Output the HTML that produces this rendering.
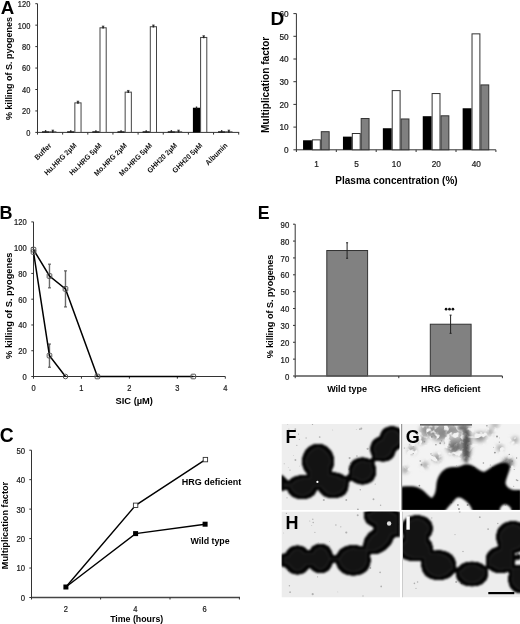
<!DOCTYPE html>
<html><head><meta charset="utf-8"><style>
html,body{margin:0;padding:0;background:#fff;}
svg{display:block;font-family:"Liberation Sans",sans-serif;filter:grayscale(1);}
</style></head><body>
<svg width="520" height="624" viewBox="0 0 520 624" font-family="Liberation Sans, sans-serif">
<rect width="520" height="624" fill="#fff"/>
<defs>
<filter id="bl" x="-10%" y="-10%" width="120%" height="120%"><feGaussianBlur stdDeviation="0.6"/></filter>
<filter id="bl2" x="-30%" y="-30%" width="160%" height="160%"><feGaussianBlur stdDeviation="1.5"/></filter>
<filter id="bl3" x="-50%" y="-50%" width="200%" height="200%"><feGaussianBlur stdDeviation="0.5"/></filter>
<clipPath id="cF"><rect x="281.5" y="424" width="118" height="86"/></clipPath>
<clipPath id="cG"><rect x="401" y="424" width="119" height="86"/></clipPath>
<clipPath id="cH"><rect x="281.5" y="511.5" width="118.5" height="86"/></clipPath>
<clipPath id="cI"><rect x="402" y="511.5" width="118" height="86"/></clipPath>
<filter id="goo" x="-20%" y="-20%" width="140%" height="140%" color-interpolation-filters="sRGB"><feGaussianBlur in="SourceAlpha" stdDeviation="1.0" result="b"/><feComponentTransfer in="b" result="t"><feFuncA type="linear" slope="12" intercept="-6.2"/></feComponentTransfer><feMorphology in="t" operator="erode" radius="3" result="inner"/><feMorphology in="t" operator="erode" radius="4" result="inner2"/><feFlood flood-color="#030303"/><feComposite in2="t" operator="in" result="rim"/><feFlood flood-color="#222"/><feComposite in2="inner" operator="in" result="ring"/><feFlood flood-color="#131313"/><feComposite in2="inner2" operator="in" result="core"/><feMerge result="m"><feMergeNode in="rim"/><feMergeNode in="ring"/><feMergeNode in="core"/></feMerge><feGaussianBlur in="m" stdDeviation="1.0"/></filter>
<filter id="bl4" x="-10%" y="-10%" width="120%" height="120%"><feGaussianBlur stdDeviation="1.0"/></filter>
<filter id="cloud" x="401" y="424" width="119" height="86" filterUnits="userSpaceOnUse"><feGaussianBlur in="SourceAlpha" stdDeviation="2" result="env"/><feTurbulence type="fractalNoise" baseFrequency="0.18" numOctaves="2" seed="11" result="n"/><feColorMatrix in="n" type="matrix" values="0 0 0 0 0.3  0 0 0 0 0.3  0 0 0 0 0.3  6 0 0 0 -2.1" result="blot"/><feComposite in="blot" in2="env" operator="in" result="c"/><feGaussianBlur in="c" stdDeviation="0.5"/></filter>
</defs>
<g clip-path="url(#cF)">
<rect x="281.5" y="424" width="118" height="86" fill="#eeeeee"/>
<g fill="#b0b0b0" filter="url(#bl3)">
<circle cx="319.7" cy="437.0" r="0.86"/>
<circle cx="290.0" cy="470.1" r="0.66"/>
<circle cx="288.3" cy="467.6" r="0.43"/>
<circle cx="332.7" cy="430.0" r="0.46"/>
<circle cx="331.6" cy="495.1" r="0.49"/>
<circle cx="307.8" cy="478.0" r="1.06"/>
<circle cx="349.6" cy="458.1" r="1.08"/>
<circle cx="287.0" cy="497.8" r="0.60"/>
<circle cx="298.5" cy="434.1" r="0.62"/>
<circle cx="377.8" cy="439.5" r="0.81"/>
<circle cx="356.9" cy="456.0" r="0.78"/>
<circle cx="288.9" cy="429.1" r="0.54"/>
<circle cx="361.8" cy="460.8" r="0.62"/>
<circle cx="350.6" cy="463.0" r="0.61"/>
<circle cx="375.2" cy="484.1" r="0.57"/>
<circle cx="349.3" cy="469.2" r="1.01"/>
<circle cx="367.6" cy="448.8" r="1.09"/>
<circle cx="295.4" cy="460.0" r="0.93"/>
<circle cx="299.4" cy="466.1" r="0.43"/>
<circle cx="360.3" cy="489.8" r="0.80"/>
<circle cx="384.8" cy="451.0" r="0.89"/>
<circle cx="351.6" cy="473.9" r="0.72"/>
<circle cx="380.6" cy="505.2" r="0.73"/>
<circle cx="359.9" cy="429.2" r="0.89"/>
<circle cx="357.9" cy="509.4" r="0.98"/>
<circle cx="315.1" cy="457.2" r="0.87"/>
<circle cx="284.2" cy="463.7" r="0.52"/>
<circle cx="295.3" cy="429.1" r="0.94"/>
<circle cx="296.8" cy="445.3" r="0.67"/>
<circle cx="384.3" cy="430.9" r="0.71"/>
<circle cx="346.3" cy="500.0" r="0.97"/>
<circle cx="383.5" cy="447.9" r="0.69"/>
<circle cx="323.8" cy="500.0" r="1.07"/>
<circle cx="299.3" cy="439.2" r="0.56"/>
<circle cx="309.0" cy="465.7" r="0.81"/>
<circle cx="312.5" cy="424.4" r="0.69"/>
<circle cx="325.1" cy="472.7" r="1.07"/>
<circle cx="363.0" cy="468.3" r="0.83"/>
<circle cx="361.3" cy="428.6" r="1.03"/>
<circle cx="373.5" cy="499.2" r="0.96"/>
<circle cx="327.8" cy="458.3" r="0.47"/>
<circle cx="356.3" cy="429.4" r="0.45"/>
<circle cx="306.1" cy="438.0" r="0.64"/>
<circle cx="287.7" cy="424.0" r="0.51"/>
<circle cx="293.5" cy="455.3" r="0.42"/>
</g>
<g filter="url(#goo)" fill="#000">
<ellipse cx="318.1" cy="461.2" rx="16.4" ry="17.8"/>
<polygon points="317.40,487.20 317.28,489.12 316.93,490.77 316.34,492.29 315.54,493.70 314.52,494.97 313.29,496.10 311.88,497.08 310.29,497.90 308.55,498.55 306.65,499.02 304.59,499.31 302.20,499.40 299.81,499.31 297.75,499.02 295.85,498.55 294.11,497.90 292.52,497.08 291.11,496.10 289.88,494.97 288.86,493.70 288.06,492.29 287.47,490.77 287.12,489.12 287.00,487.20 287.12,485.28 287.47,483.63 288.06,482.11 288.86,480.70 289.88,479.43 291.11,478.30 292.52,477.32 294.11,476.50 295.85,475.85 297.75,475.38 299.81,475.09 302.20,475.00 304.59,475.09 306.65,475.38 308.55,475.85 310.29,476.50 311.88,477.32 313.29,478.30 314.52,479.43 315.54,480.70 316.34,482.11 316.93,483.63 317.28,485.28"/>
<polygon points="348.80,485.30 348.68,487.37 348.32,489.16 347.72,490.81 346.89,492.33 345.84,493.71 344.58,494.93 343.13,495.99 341.51,496.88 339.71,497.58 337.77,498.09 335.65,498.40 333.20,498.50 330.75,498.40 328.63,498.09 326.69,497.58 324.89,496.88 323.27,495.99 321.82,494.93 320.56,493.71 319.51,492.33 318.68,490.81 318.08,489.16 317.72,487.37 317.60,485.30 317.72,483.23 318.08,481.44 318.68,479.79 319.51,478.27 320.56,476.89 321.82,475.67 323.27,474.61 324.89,473.72 326.69,473.02 328.63,472.51 330.75,472.20 333.20,472.10 335.65,472.20 337.77,472.51 339.71,473.02 341.51,473.72 343.13,474.61 344.58,475.67 345.84,476.89 346.89,478.27 347.72,479.79 348.32,481.44 348.68,483.23"/>
<polygon points="376.50,471.00 376.39,473.17 376.07,475.04 375.53,476.76 374.78,478.35 373.84,479.79 372.72,481.07 371.42,482.18 369.96,483.11 368.35,483.84 366.60,484.37 364.70,484.69 362.50,484.80 360.30,484.69 358.40,484.37 356.65,483.84 355.04,483.11 353.58,482.18 352.28,481.07 351.16,479.79 350.22,478.35 349.47,476.76 348.93,475.04 348.61,473.17 348.50,471.00 348.61,468.83 348.93,466.96 349.47,465.24 350.22,463.65 351.16,462.21 352.28,460.93 353.58,459.82 355.04,458.89 356.65,458.16 358.40,457.63 360.30,457.31 362.50,457.20 364.70,457.31 366.60,457.63 368.35,458.16 369.96,458.89 371.42,459.82 372.72,460.93 373.84,462.21 374.78,463.65 375.53,465.24 376.07,466.96 376.39,468.83"/>
<polygon points="396.00,449.00 395.90,451.01 395.60,452.75 395.10,454.35 394.41,455.82 393.53,457.15 392.49,458.34 391.28,459.37 389.92,460.23 388.43,460.91 386.80,461.40 385.04,461.70 383.00,461.80 380.96,461.70 379.20,461.40 377.57,460.91 376.08,460.23 374.72,459.37 373.51,458.34 372.47,457.15 371.59,455.82 370.90,454.35 370.40,452.75 370.10,451.01 370.00,449.00 370.10,446.99 370.40,445.25 370.90,443.65 371.59,442.18 372.47,440.85 373.51,439.66 374.72,438.63 376.08,437.77 377.57,437.09 379.20,436.60 380.96,436.30 383.00,436.20 385.04,436.30 386.80,436.60 388.43,437.09 389.92,437.77 391.28,438.63 392.49,439.66 393.53,440.85 394.41,442.18 395.10,443.65 395.60,445.25 395.90,446.99"/>
<polygon points="404.50,438.50 404.40,440.46 404.11,442.16 403.63,443.72 402.97,445.16 402.13,446.46 401.12,447.62 399.96,448.63 398.66,449.47 397.22,450.13 395.66,450.61 393.96,450.90 392.00,451.00 390.04,450.90 388.34,450.61 386.78,450.13 385.34,449.47 384.04,448.63 382.88,447.62 381.87,446.46 381.03,445.16 380.37,443.72 379.89,442.16 379.60,440.46 379.50,438.50 379.60,436.54 379.89,434.84 380.37,433.28 381.03,431.84 381.87,430.54 382.88,429.38 384.04,428.37 385.34,427.53 386.78,426.87 388.34,426.39 390.04,426.10 392.00,426.00 393.96,426.10 395.66,426.39 397.22,426.87 398.66,427.53 399.96,428.37 401.12,429.38 402.13,430.54 402.97,431.84 403.63,433.28 404.11,434.84 404.40,436.54"/>
<polygon points="351.30,478.50 351.28,479.05 351.21,479.52 351.09,479.96 350.93,480.36 350.73,480.73 350.49,481.05 350.21,481.34 349.90,481.57 349.55,481.76 349.18,481.89 348.77,481.97 348.30,482.00 347.83,481.97 347.42,481.89 347.05,481.76 346.70,481.57 346.39,481.34 346.11,481.05 345.87,480.73 345.67,480.36 345.51,479.96 345.39,479.52 345.32,479.05 345.30,478.50 345.32,477.95 345.39,477.48 345.51,477.04 345.67,476.64 345.87,476.27 346.11,475.95 346.39,475.66 346.70,475.43 347.05,475.24 347.42,475.11 347.83,475.03 348.30,475.00 348.77,475.03 349.18,475.11 349.55,475.24 349.90,475.43 350.21,475.66 350.49,475.95 350.73,476.27 350.93,476.64 351.09,477.04 351.21,477.48 351.28,477.95"/>
<polygon points="376.10,459.50 376.08,459.91 376.02,460.26 375.92,460.59 375.78,460.88 375.61,461.16 375.40,461.40 375.16,461.61 374.88,461.78 374.59,461.92 374.26,462.02 373.91,462.08 373.50,462.10 373.09,462.08 372.74,462.02 372.41,461.92 372.12,461.78 371.84,461.61 371.60,461.40 371.39,461.16 371.22,460.88 371.08,460.59 370.98,460.26 370.92,459.91 370.90,459.50 370.92,459.09 370.98,458.74 371.08,458.41 371.22,458.12 371.39,457.84 371.60,457.60 371.84,457.39 372.12,457.22 372.41,457.08 372.74,456.98 373.09,456.92 373.50,456.90 373.91,456.92 374.26,456.98 374.59,457.08 374.88,457.22 375.16,457.39 375.40,457.60 375.61,457.84 375.78,458.12 375.92,458.41 376.02,458.74 376.08,459.09"/>
<polygon points="321.00,481.00 320.97,481.47 320.89,481.88 320.76,482.25 320.57,482.60 320.34,482.91 320.05,483.19 319.73,483.43 319.36,483.63 318.96,483.79 318.52,483.91 318.05,483.98 317.50,484.00 316.95,483.98 316.48,483.91 316.04,483.79 315.64,483.63 315.27,483.43 314.95,483.19 314.66,482.91 314.43,482.60 314.24,482.25 314.11,481.88 314.03,481.47 314.00,481.00 314.03,480.53 314.11,480.12 314.24,479.75 314.43,479.40 314.66,479.09 314.95,478.81 315.27,478.57 315.64,478.37 316.04,478.21 316.48,478.09 316.95,478.02 317.50,478.00 318.05,478.02 318.52,478.09 318.96,478.21 319.36,478.37 319.73,478.57 320.05,478.81 320.34,479.09 320.57,479.40 320.76,479.75 320.89,480.12 320.97,480.53"/>
<path d="M281,472.5 L288.5,481.5 L288.5,488 L281,492.5 Z" stroke="none"/>
</g>
<circle cx="317.4" cy="481.9" r="1.1" fill="#fff"/>
</g>
<g clip-path="url(#cG)">
<rect x="401" y="424" width="119" height="86" fill="#f3f3f3"/>
<g fill="#999" filter="url(#bl3)">
<circle cx="505.0" cy="476.8" r="0.50"/>
<circle cx="431.0" cy="453.9" r="0.65"/>
<circle cx="415.6" cy="497.0" r="1.10"/>
<circle cx="456.5" cy="465.6" r="0.46"/>
<circle cx="413.2" cy="453.5" r="0.59"/>
<circle cx="499.6" cy="437.9" r="0.42"/>
<circle cx="514.2" cy="469.4" r="0.50"/>
<circle cx="465.6" cy="426.3" r="0.77"/>
<circle cx="517.4" cy="498.2" r="0.89"/>
<circle cx="432.1" cy="455.5" r="0.52"/>
<circle cx="492.9" cy="469.8" r="0.95"/>
<circle cx="440.2" cy="443.2" r="0.97"/>
<circle cx="518.2" cy="497.3" r="0.96"/>
<circle cx="498.4" cy="487.6" r="0.56"/>
<circle cx="462.6" cy="454.6" r="0.42"/>
<circle cx="404.3" cy="448.0" r="0.58"/>
<circle cx="483.4" cy="506.3" r="0.71"/>
<circle cx="512.5" cy="509.0" r="1.07"/>
<circle cx="444.4" cy="443.0" r="0.56"/>
<circle cx="424.4" cy="441.6" r="0.84"/>
<circle cx="508.1" cy="496.3" r="0.74"/>
<circle cx="478.7" cy="492.8" r="0.46"/>
<circle cx="479.6" cy="502.2" r="0.95"/>
<circle cx="490.3" cy="465.1" r="0.52"/>
<circle cx="494.9" cy="452.6" r="0.96"/>
<circle cx="516.6" cy="458.0" r="0.68"/>
<circle cx="513.7" cy="486.3" r="0.52"/>
<circle cx="416.1" cy="437.0" r="1.03"/>
<circle cx="497.0" cy="436.6" r="0.98"/>
<circle cx="517.7" cy="480.5" r="0.65"/>
<circle cx="466.3" cy="435.3" r="0.41"/>
<circle cx="516.5" cy="479.9" r="0.77"/>
<circle cx="512.1" cy="461.3" r="1.01"/>
<circle cx="499.3" cy="442.1" r="0.58"/>
<circle cx="435.9" cy="444.7" r="0.81"/>
<circle cx="431.9" cy="460.0" r="0.49"/>
<circle cx="509.3" cy="454.4" r="0.72"/>
<circle cx="470.4" cy="501.8" r="0.69"/>
<circle cx="510.2" cy="467.1" r="0.77"/>
<circle cx="463.3" cy="425.6" r="0.71"/>
<circle cx="422.8" cy="424.3" r="0.96"/>
<circle cx="421.5" cy="464.7" r="0.91"/>
<circle cx="467.2" cy="452.0" r="0.76"/>
<circle cx="467.1" cy="491.4" r="0.47"/>
<circle cx="467.7" cy="445.4" r="0.59"/>
<circle cx="492.9" cy="467.7" r="0.79"/>
<circle cx="491.4" cy="502.5" r="0.71"/>
<circle cx="473.9" cy="467.5" r="0.76"/>
<circle cx="483.4" cy="462.9" r="0.77"/>
<circle cx="457.9" cy="505.0" r="0.89"/>
<circle cx="505.3" cy="505.0" r="0.58"/>
<circle cx="467.6" cy="505.1" r="0.99"/>
<circle cx="417.3" cy="434.5" r="0.71"/>
<circle cx="409.6" cy="444.7" r="0.45"/>
<circle cx="480.7" cy="491.4" r="1.03"/>
<circle cx="419.4" cy="485.6" r="0.86"/>
<circle cx="418.0" cy="499.9" r="1.08"/>
<circle cx="427.1" cy="505.9" r="0.68"/>
<circle cx="459.0" cy="509.1" r="0.98"/>
<circle cx="420.2" cy="461.1" r="0.76"/>
<circle cx="441.4" cy="440.8" r="0.62"/>
<circle cx="486.9" cy="425.7" r="0.79"/>
<circle cx="453.4" cy="425.6" r="0.63"/>
<circle cx="475.2" cy="468.1" r="0.45"/>
<circle cx="518.2" cy="491.8" r="1.08"/>
<circle cx="413.5" cy="446.8" r="0.43"/>
<circle cx="493.7" cy="447.3" r="0.49"/>
<circle cx="451.2" cy="502.4" r="0.97"/>
<circle cx="431.8" cy="436.8" r="1.04"/>
<circle cx="468.9" cy="484.2" r="0.46"/>
</g>
<g filter="url(#cloud)">
<ellipse cx="432" cy="430" rx="12" ry="7" fill="#000"/>
<ellipse cx="446" cy="430" rx="14" ry="6" fill="#000"/>
<ellipse cx="455" cy="446" rx="9" ry="9" fill="#000"/>
<ellipse cx="465.5" cy="442" rx="6" ry="20" fill="#000"/>
<ellipse cx="440" cy="436" rx="8" ry="5" fill="#000"/>
<ellipse cx="480" cy="437" rx="6" ry="5" fill="#000"/>
<ellipse cx="508" cy="463" rx="6" ry="5" fill="#000"/>
<ellipse cx="437" cy="458" rx="4" ry="4" fill="#000"/>
<ellipse cx="422" cy="440" rx="4" ry="4" fill="#000"/>
<ellipse cx="412" cy="450" rx="4" ry="4" fill="#000"/>
<ellipse cx="405" cy="470" rx="3" ry="3" fill="#000"/>
<ellipse cx="490" cy="432" rx="3" ry="3" fill="#000"/>
<ellipse cx="500" cy="448" rx="3" ry="3" fill="#000"/>
<ellipse cx="515" cy="440" rx="3" ry="3" fill="#000"/>
<ellipse cx="425" cy="465" rx="3" ry="3" fill="#000"/>
<ellipse cx="495" cy="425" rx="4" ry="2" fill="#000"/>
</g>
<rect x="420" y="424" width="52" height="1.6" fill="#666" filter="url(#bl3)"/>
<g filter="url(#bl2)" opacity="0.85">
<ellipse cx="466.5" cy="446" rx="3.5" ry="17" fill="#4a4a4a"/>
<ellipse cx="455" cy="447" rx="5" ry="4" fill="#6a6a6a"/>
<ellipse cx="443" cy="433" rx="4" ry="3" fill="#888"/>
<ellipse cx="508" cy="462" rx="4" ry="3.5" fill="#777"/>
<ellipse cx="462" cy="428" rx="5" ry="3" fill="#666"/>
</g>
<g filter="url(#bl4)">
<path d="M401,486.7 C410,486 416,486 420,488.5 C425,491 428,496 431.7,498 C435,496 436,490 436.3,485 C437,478 440,472 446,468.5 C452,466 457,468 462,465.5 C466,463.5 470,464 474,466.5 C478,469 482,472.5 485,471.5 C489,469 494,465 500,463 C504,461.5 508,462 510,466.3 C510,471 506,478 505.5,483 C506,487 510,489.5 514,490 L521,490 L521,511 L512,511 C511,507 508,504.5 505,504.5 C502,504.5 500,507 499.5,511 L472.5,511 C471,506 468,502 463,499 C460,497 457,497 455,499.5 C452,503 448,507 445,511 L401,511 Z" fill="#040404"/>
</g>
<rect x="401" y="424" width="1.2" height="86" fill="#999"/>
</g>
<g clip-path="url(#cH)">
<rect x="281.5" y="511.5" width="118.5" height="86" fill="#ececec"/>
<g fill="#b0b0b0" filter="url(#bl3)">
<circle cx="288.3" cy="570.7" r="0.70"/>
<circle cx="290.1" cy="592.2" r="0.84"/>
<circle cx="376.5" cy="518.7" r="1.00"/>
<circle cx="289.4" cy="585.7" r="0.72"/>
<circle cx="321.7" cy="559.1" r="1.05"/>
<circle cx="313.2" cy="522.6" r="0.77"/>
<circle cx="309.8" cy="520.9" r="0.51"/>
<circle cx="287.5" cy="528.9" r="0.62"/>
<circle cx="317.6" cy="576.8" r="0.60"/>
<circle cx="340.8" cy="526.8" r="0.64"/>
<circle cx="283.7" cy="533.0" r="0.41"/>
<circle cx="368.4" cy="558.9" r="0.53"/>
<circle cx="337.8" cy="591.9" r="0.47"/>
<circle cx="378.5" cy="548.7" r="0.75"/>
<circle cx="380.4" cy="545.3" r="0.75"/>
<circle cx="363.0" cy="596.0" r="0.64"/>
<circle cx="380.1" cy="572.3" r="0.85"/>
<circle cx="329.5" cy="541.4" r="0.44"/>
<circle cx="296.9" cy="517.6" r="0.92"/>
<circle cx="311.8" cy="525.5" r="0.46"/>
<circle cx="381.2" cy="586.4" r="0.87"/>
<circle cx="314.9" cy="532.3" r="0.61"/>
<circle cx="335.9" cy="525.0" r="0.71"/>
<circle cx="312.7" cy="594.2" r="1.08"/>
<circle cx="346.3" cy="532.5" r="1.08"/>
<circle cx="318.2" cy="542.2" r="0.40"/>
<circle cx="326.7" cy="552.3" r="0.75"/>
<circle cx="305.3" cy="554.9" r="0.40"/>
<circle cx="312.8" cy="519.2" r="0.68"/>
<circle cx="286.4" cy="513.4" r="0.61"/>
<circle cx="309.1" cy="561.9" r="0.77"/>
<circle cx="370.4" cy="568.0" r="0.90"/>
<circle cx="385.7" cy="545.0" r="0.63"/>
<circle cx="398.2" cy="524.4" r="0.91"/>
<circle cx="357.7" cy="515.3" r="0.98"/>
</g>
<g filter="url(#goo)" fill="#000">
<polygon points="310.70,560.00 310.60,562.32 310.29,564.33 309.78,566.18 309.08,567.88 308.19,569.43 307.13,570.80 305.91,571.99 304.53,572.99 303.01,573.77 301.36,574.34 299.57,574.68 297.50,574.80 295.43,574.68 293.64,574.34 291.99,573.77 290.47,572.99 289.09,571.99 287.87,570.80 286.81,569.43 285.92,567.88 285.22,566.18 284.71,564.33 284.40,562.32 284.30,560.00 284.40,557.68 284.71,555.67 285.22,553.82 285.92,552.12 286.81,550.57 287.87,549.20 289.09,548.01 290.47,547.01 291.99,546.23 293.64,545.66 295.43,545.32 297.50,545.20 299.57,545.32 301.36,545.66 303.01,546.23 304.53,547.01 305.91,548.01 307.13,549.20 308.19,550.57 309.08,552.12 309.78,553.82 310.29,555.67 310.60,557.68"/>
<polygon points="333.30,558.50 333.20,560.86 332.90,562.89 332.41,564.76 331.73,566.49 330.87,568.05 329.84,569.45 328.65,570.65 327.32,571.66 325.85,572.46 324.25,573.03 322.51,573.38 320.50,573.50 318.49,573.38 316.75,573.03 315.15,572.46 313.68,571.66 312.35,570.65 311.16,569.45 310.13,568.05 309.27,566.49 308.59,564.76 308.10,562.89 307.80,560.86 307.70,558.50 307.80,556.14 308.10,554.11 308.59,552.24 309.27,550.51 310.13,548.95 311.16,547.55 312.35,546.35 313.68,545.34 315.15,544.54 316.75,543.97 318.49,543.62 320.50,543.50 322.51,543.62 324.25,543.97 325.85,544.54 327.32,545.34 328.65,546.35 329.84,547.55 330.87,548.95 331.73,550.51 332.41,552.24 332.90,554.11 333.20,556.14"/>
<polygon points="370.90,560.30 370.76,562.73 370.35,564.84 369.68,566.77 368.74,568.55 367.56,570.17 366.14,571.61 364.51,572.86 362.67,573.90 360.65,574.72 358.45,575.32 356.06,575.68 353.30,575.80 350.54,575.68 348.15,575.32 345.95,574.72 343.93,573.90 342.09,572.86 340.46,571.61 339.04,570.17 337.86,568.55 336.92,566.77 336.25,564.84 335.84,562.73 335.70,560.30 335.84,557.87 336.25,555.76 336.92,553.83 337.86,552.05 339.04,550.43 340.46,548.99 342.09,547.74 343.93,546.70 345.95,545.88 348.15,545.28 350.54,544.92 353.30,544.80 356.06,544.92 358.45,545.28 360.65,545.88 362.67,546.70 364.51,547.74 366.14,548.99 367.56,550.43 368.74,552.05 369.68,553.83 370.35,555.76 370.76,557.87"/>
<polygon points="395.00,540.30 394.87,542.18 394.49,543.81 393.85,545.31 392.98,546.69 391.87,547.94 390.54,549.06 389.01,550.02 387.29,550.83 385.39,551.47 383.33,551.93 381.09,552.21 378.50,552.30 375.91,552.21 373.67,551.93 371.61,551.47 369.71,550.83 367.99,550.02 366.46,549.06 365.13,547.94 364.02,546.69 363.15,545.31 362.51,543.81 362.13,542.18 362.00,540.30 362.13,538.42 362.51,536.79 363.15,535.29 364.02,533.91 365.13,532.66 366.46,531.54 367.99,530.58 369.71,529.77 371.61,529.13 373.67,528.67 375.91,528.39 378.50,528.30 381.09,528.39 383.33,528.67 385.39,529.13 387.29,529.77 389.01,530.58 390.54,531.54 391.87,532.66 392.98,533.91 393.85,535.29 394.49,536.79 394.87,538.42" transform="rotate(-38 378.5 540.3)"/>
<polygon points="400.00,517.00 399.86,518.73 399.44,520.22 398.75,521.59 397.79,522.86 396.58,524.01 395.14,525.03 393.46,525.91 391.59,526.65 389.52,527.24 387.27,527.66 384.83,527.91 382.00,528.00 379.17,527.91 376.73,527.66 374.48,527.24 372.41,526.65 370.54,525.91 368.86,525.03 367.42,524.01 366.21,522.86 365.25,521.59 364.56,520.22 364.14,518.73 364.00,517.00 364.14,515.27 364.56,513.78 365.25,512.41 366.21,511.14 367.42,509.99 368.86,508.97 370.54,508.09 372.41,507.35 374.48,506.76 376.73,506.34 379.17,506.09 382.00,506.00 384.83,506.09 387.27,506.34 389.52,506.76 391.59,507.35 393.46,508.09 395.14,508.97 396.58,509.99 397.79,511.14 398.75,512.41 399.44,513.78 399.86,515.27"/>
<path d="M281,553 L287,554 L287,567 L281,567.5 Z" stroke="none"/><path d="M362.7,511 L400.5,511 L400.5,537.5 L393,537.5 L385,532 L374,528 L366.5,522 Z" stroke="none"/><path d="M332,556 L337,555 L337,563 L332,562 Z" stroke="none"/>
</g>
<circle cx="389.1" cy="523.5" r="2.2" fill="#ddd" filter="url(#bl)"/>
</g>
<g clip-path="url(#cI)">
<rect x="402" y="511.5" width="118" height="86" fill="#ededed"/>
<g fill="#b0b0b0" filter="url(#bl3)">
<circle cx="507.2" cy="565.5" r="0.91"/>
<circle cx="497.8" cy="523.5" r="0.77"/>
<circle cx="461.5" cy="583.3" r="0.96"/>
<circle cx="499.5" cy="561.7" r="1.02"/>
<circle cx="482.6" cy="571.1" r="0.56"/>
<circle cx="405.7" cy="522.9" r="0.65"/>
<circle cx="414.4" cy="583.4" r="0.79"/>
<circle cx="476.1" cy="565.4" r="0.88"/>
<circle cx="459.7" cy="511.8" r="0.96"/>
<circle cx="490.3" cy="554.8" r="0.77"/>
<circle cx="479.8" cy="517.2" r="0.92"/>
<circle cx="431.8" cy="517.9" r="0.59"/>
<circle cx="488.1" cy="529.1" r="0.92"/>
<circle cx="517.1" cy="554.0" r="0.67"/>
<circle cx="458.5" cy="570.3" r="0.94"/>
<circle cx="474.8" cy="566.8" r="0.45"/>
<circle cx="419.4" cy="533.3" r="0.92"/>
<circle cx="437.9" cy="560.3" r="0.41"/>
<circle cx="409.2" cy="534.6" r="0.87"/>
<circle cx="483.7" cy="569.6" r="0.60"/>
<circle cx="463.0" cy="551.5" r="0.73"/>
<circle cx="416.0" cy="588.4" r="0.54"/>
<circle cx="517.4" cy="592.0" r="0.41"/>
<circle cx="456.2" cy="582.0" r="1.08"/>
<circle cx="455.0" cy="534.6" r="0.55"/>
<circle cx="513.6" cy="529.6" r="0.81"/>
<circle cx="418.7" cy="556.6" r="1.07"/>
<circle cx="417.6" cy="582.0" r="0.76"/>
<circle cx="506.6" cy="572.0" r="0.56"/>
<circle cx="507.9" cy="553.3" r="0.42"/>
</g>
<g filter="url(#goo)" fill="#000">
<polygon points="433.00,528.50 432.88,530.62 432.50,532.45 431.89,534.14 431.04,535.69 429.96,537.10 428.68,538.35 427.19,539.44 425.52,540.35 423.68,541.06 421.68,541.58 419.51,541.89 417.00,542.00 414.49,541.89 412.32,541.58 410.32,541.06 408.48,540.35 406.81,539.44 405.32,538.35 404.04,537.10 402.96,535.69 402.11,534.14 401.50,532.45 401.12,530.62 401.00,528.50 401.12,526.38 401.50,524.55 402.11,522.86 402.96,521.31 404.04,519.90 405.32,518.65 406.81,517.56 408.48,516.65 410.32,515.94 412.32,515.42 414.49,515.11 417.00,515.00 419.51,515.11 421.68,515.42 423.68,515.94 425.52,516.65 427.19,517.56 428.68,518.65 429.96,519.90 431.04,521.31 431.89,522.86 432.50,524.55 432.88,526.38"/>
<polygon points="433.00,548.00 432.86,550.12 432.44,551.95 431.75,553.64 430.79,555.19 429.58,556.60 428.14,557.85 426.46,558.94 424.59,559.85 422.52,560.56 420.27,561.08 417.83,561.39 415.00,561.50 412.17,561.39 409.73,561.08 407.48,560.56 405.41,559.85 403.54,558.94 401.86,557.85 400.42,556.60 399.21,555.19 398.25,553.64 397.56,551.95 397.14,550.12 397.00,548.00 397.14,545.88 397.56,544.05 398.25,542.36 399.21,540.81 400.42,539.40 401.86,538.15 403.54,537.06 405.41,536.15 407.48,535.44 409.73,534.92 412.17,534.61 415.00,534.50 417.83,534.61 420.27,534.92 422.52,535.44 424.59,536.15 426.46,537.06 428.14,538.15 429.58,539.40 430.79,540.81 431.75,542.36 432.44,544.05 432.86,545.88"/>
<polygon points="456.30,565.20 456.16,567.57 455.75,569.62 455.08,571.51 454.14,573.24 452.96,574.82 451.54,576.22 449.91,577.43 448.07,578.45 446.05,579.25 443.85,579.83 441.46,580.18 438.70,580.30 435.94,580.18 433.55,579.83 431.35,579.25 429.33,578.45 427.49,577.43 425.86,576.22 424.44,574.82 423.26,573.24 422.32,571.51 421.65,569.62 421.24,567.57 421.10,565.20 421.24,562.83 421.65,560.78 422.32,558.89 423.26,557.16 424.44,555.58 425.86,554.18 427.49,552.97 429.33,551.95 431.35,551.15 433.55,550.57 435.94,550.22 438.70,550.10 441.46,550.22 443.85,550.57 446.05,551.15 448.07,551.95 449.91,552.97 451.54,554.18 452.96,555.58 454.14,557.16 455.08,558.89 455.75,560.78 456.16,562.83"/>
<polygon points="488.20,574.00 488.07,575.99 487.70,577.72 487.07,579.30 486.21,580.76 485.13,582.09 483.82,583.27 482.32,584.29 480.63,585.14 478.77,585.82 476.74,586.31 474.54,586.60 472.00,586.70 469.46,586.60 467.26,586.31 465.23,585.82 463.37,585.14 461.68,584.29 460.18,583.27 458.87,582.09 457.79,580.76 456.93,579.30 456.30,577.72 455.93,575.99 455.80,574.00 455.93,572.01 456.30,570.28 456.93,568.70 457.79,567.24 458.87,565.91 460.18,564.73 461.68,563.71 463.37,562.86 465.23,562.18 467.26,561.69 469.46,561.40 472.00,561.30 474.54,561.40 476.74,561.69 478.77,562.18 480.63,562.86 482.32,563.71 483.82,564.73 485.13,565.91 486.21,567.24 487.07,568.70 487.70,570.28 488.07,572.01"/>
<polygon points="515.50,560.00 515.38,562.12 515.03,563.95 514.46,565.64 513.66,567.19 512.65,568.60 511.45,569.85 510.05,570.94 508.49,571.85 506.76,572.56 504.89,573.08 502.86,573.39 500.50,573.50 498.14,573.39 496.11,573.08 494.24,572.56 492.51,571.85 490.95,570.94 489.55,569.85 488.35,568.60 487.34,567.19 486.54,565.64 485.97,563.95 485.62,562.12 485.50,560.00 485.62,557.88 485.97,556.05 486.54,554.36 487.34,552.81 488.35,551.40 489.55,550.15 490.95,549.06 492.51,548.15 494.24,547.44 496.11,546.92 498.14,546.61 500.50,546.50 502.86,546.61 504.89,546.92 506.76,547.44 508.49,548.15 510.05,549.06 511.45,550.15 512.65,551.40 513.66,552.81 514.46,554.36 515.03,556.05 515.38,557.88"/>
<polygon points="530.00,537.00 529.87,539.51 529.47,541.68 528.82,543.68 527.92,545.52 526.77,547.19 525.41,548.68 523.83,549.96 522.05,551.04 520.10,551.89 517.98,552.50 515.67,552.88 513.00,553.00 510.33,552.88 508.02,552.50 505.90,551.89 503.95,551.04 502.17,549.96 500.59,548.68 499.23,547.19 498.08,545.52 497.18,543.68 496.53,541.68 496.13,539.51 496.00,537.00 496.13,534.49 496.53,532.32 497.18,530.32 498.08,528.48 499.23,526.81 500.59,525.32 502.17,524.04 503.95,522.96 505.90,522.11 508.02,521.50 510.33,521.12 513.00,521.00 515.67,521.12 517.98,521.50 520.10,522.11 522.05,522.96 523.83,524.04 525.41,525.32 526.77,526.81 527.92,528.48 528.82,530.32 529.47,532.32 529.87,534.49"/>
<polygon points="534.00,579.00 533.90,581.28 533.60,583.24 533.10,585.06 532.41,586.72 531.53,588.23 530.49,589.58 529.28,590.75 527.92,591.72 526.43,592.49 524.80,593.05 523.04,593.39 521.00,593.50 518.96,593.39 517.20,593.05 515.57,592.49 514.08,591.72 512.72,590.75 511.51,589.58 510.47,588.23 509.59,586.72 508.90,585.06 508.40,583.24 508.10,581.28 508.00,579.00 508.10,576.72 508.40,574.76 508.90,572.94 509.59,571.28 510.47,569.77 511.51,568.42 512.72,567.25 514.08,566.28 515.57,565.51 517.20,564.95 518.96,564.61 521.00,564.50 523.04,564.61 524.80,564.95 526.43,565.51 527.92,566.28 529.28,567.25 530.49,568.42 531.53,569.77 532.41,571.28 533.10,572.94 533.60,574.76 533.90,576.72"/>
<polygon points="521.50,557.00 521.48,557.47 521.41,557.88 521.29,558.25 521.13,558.60 520.93,558.91 520.69,559.19 520.41,559.43 520.10,559.63 519.75,559.79 519.38,559.91 518.97,559.98 518.50,560.00 518.03,559.98 517.62,559.91 517.25,559.79 516.90,559.63 516.59,559.43 516.31,559.19 516.07,558.91 515.87,558.60 515.71,558.25 515.59,557.88 515.52,557.47 515.50,557.00 515.52,556.53 515.59,556.12 515.71,555.75 515.87,555.40 516.07,555.09 516.31,554.81 516.59,554.57 516.90,554.37 517.25,554.21 517.62,554.09 518.03,554.02 518.50,554.00 518.97,554.02 519.38,554.09 519.75,554.21 520.10,554.37 520.41,554.57 520.69,554.81 520.93,555.09 521.13,555.40 521.29,555.75 521.41,556.12 521.48,556.53"/>

</g>
<rect x="406.4" y="516.3" width="3.4" height="13.4" fill="#fff"/>
<rect x="488.3" y="592" width="26" height="2.2" fill="#000"/>
<rect x="402" y="511.5" width="1" height="86" fill="#ccc"/>
</g>
<text x="285.6" y="442.7" font-size="18" font-weight="bold">F</text>
<text x="405.8" y="443.4" font-size="18" font-weight="bold">G</text>
<text x="285.6" y="529.3" font-size="18" font-weight="bold">H</text>
<line x1="37.50" y1="3.70" x2="37.50" y2="132.90" stroke="#333" stroke-width="1"/>
<line x1="35.30" y1="132.40" x2="37.50" y2="132.40" stroke="#333" stroke-width="1"/>
<text transform="translate(30.30,135.80) scale(0.900,1)" font-size="8.3" text-anchor="end" fill="#1a1a1a" stroke="#1a1a1a" stroke-width="0.22">0</text>
<line x1="35.30" y1="110.95" x2="37.50" y2="110.95" stroke="#333" stroke-width="1"/>
<text transform="translate(30.30,114.35) scale(0.900,1)" font-size="8.3" text-anchor="end" fill="#1a1a1a" stroke="#1a1a1a" stroke-width="0.22">20</text>
<line x1="35.30" y1="89.50" x2="37.50" y2="89.50" stroke="#333" stroke-width="1"/>
<text transform="translate(30.30,92.90) scale(0.900,1)" font-size="8.3" text-anchor="end" fill="#1a1a1a" stroke="#1a1a1a" stroke-width="0.22">40</text>
<line x1="35.30" y1="68.05" x2="37.50" y2="68.05" stroke="#333" stroke-width="1"/>
<text transform="translate(30.30,71.45) scale(0.900,1)" font-size="8.3" text-anchor="end" fill="#1a1a1a" stroke="#1a1a1a" stroke-width="0.22">60</text>
<line x1="35.30" y1="46.60" x2="37.50" y2="46.60" stroke="#333" stroke-width="1"/>
<text transform="translate(30.30,50.00) scale(0.900,1)" font-size="8.3" text-anchor="end" fill="#1a1a1a" stroke="#1a1a1a" stroke-width="0.22">80</text>
<line x1="35.30" y1="25.15" x2="37.50" y2="25.15" stroke="#333" stroke-width="1"/>
<text transform="translate(30.30,28.55) scale(0.900,1)" font-size="8.3" text-anchor="end" fill="#1a1a1a" stroke="#1a1a1a" stroke-width="0.22">100</text>
<line x1="35.30" y1="3.70" x2="37.50" y2="3.70" stroke="#333" stroke-width="1"/>
<text transform="translate(30.30,7.10) scale(0.900,1)" font-size="8.3" text-anchor="end" fill="#1a1a1a" stroke="#1a1a1a" stroke-width="0.22">120</text>
<line x1="37.50" y1="132.40" x2="239.20" y2="132.40" stroke="#333" stroke-width="1"/>
<line x1="37.50" y1="132.40" x2="37.50" y2="134.60" stroke="#333" stroke-width="1"/>
<line x1="62.65" y1="132.40" x2="62.65" y2="134.60" stroke="#333" stroke-width="1"/>
<line x1="87.80" y1="132.40" x2="87.80" y2="134.60" stroke="#333" stroke-width="1"/>
<line x1="112.95" y1="132.40" x2="112.95" y2="134.60" stroke="#333" stroke-width="1"/>
<line x1="138.10" y1="132.40" x2="138.10" y2="134.60" stroke="#333" stroke-width="1"/>
<line x1="163.25" y1="132.40" x2="163.25" y2="134.60" stroke="#333" stroke-width="1"/>
<line x1="188.40" y1="132.40" x2="188.40" y2="134.60" stroke="#333" stroke-width="1"/>
<line x1="213.55" y1="132.40" x2="213.55" y2="134.60" stroke="#333" stroke-width="1"/>
<line x1="238.70" y1="132.40" x2="238.70" y2="134.60" stroke="#333" stroke-width="1"/>
<rect x="42.00" y="131.33" width="7.20" height="1.07" fill="#000"/>
<rect x="49.70" y="131.83" width="6.20" height="0.57" fill="#fff" stroke="#444" stroke-width="1"/>
<line x1="52.80" y1="130.03" x2="52.80" y2="132.63" stroke="#222" stroke-width="1.6"/>
<line x1="51.50" y1="130.13" x2="54.10" y2="130.13" stroke="#444" stroke-width="0.8"/>
<line x1="45.60" y1="130.13" x2="45.60" y2="132.33" stroke="#222" stroke-width="1.4"/>
<rect x="67.15" y="131.33" width="7.20" height="1.07" fill="#000"/>
<rect x="74.85" y="102.87" width="6.20" height="29.53" fill="#fff" stroke="#444" stroke-width="1"/>
<line x1="77.95" y1="101.07" x2="77.95" y2="103.67" stroke="#222" stroke-width="1.6"/>
<line x1="76.65" y1="101.17" x2="79.25" y2="101.17" stroke="#444" stroke-width="0.8"/>
<line x1="70.75" y1="130.13" x2="70.75" y2="132.33" stroke="#222" stroke-width="1.4"/>
<rect x="92.30" y="131.33" width="7.20" height="1.07" fill="#000"/>
<rect x="100.00" y="27.79" width="6.20" height="104.61" fill="#fff" stroke="#444" stroke-width="1"/>
<line x1="103.10" y1="25.99" x2="103.10" y2="28.59" stroke="#222" stroke-width="1.6"/>
<line x1="101.80" y1="26.09" x2="104.40" y2="26.09" stroke="#444" stroke-width="0.8"/>
<line x1="95.90" y1="130.13" x2="95.90" y2="132.33" stroke="#222" stroke-width="1.4"/>
<rect x="117.45" y="131.33" width="7.20" height="1.07" fill="#000"/>
<rect x="125.15" y="92.14" width="6.20" height="40.26" fill="#fff" stroke="#444" stroke-width="1"/>
<line x1="128.25" y1="90.34" x2="128.25" y2="92.94" stroke="#222" stroke-width="1.6"/>
<line x1="126.95" y1="90.44" x2="129.55" y2="90.44" stroke="#444" stroke-width="0.8"/>
<line x1="121.05" y1="130.13" x2="121.05" y2="132.33" stroke="#222" stroke-width="1.4"/>
<rect x="142.60" y="131.33" width="7.20" height="1.07" fill="#000"/>
<rect x="150.30" y="26.72" width="6.20" height="105.68" fill="#fff" stroke="#444" stroke-width="1"/>
<line x1="153.40" y1="24.92" x2="153.40" y2="27.52" stroke="#222" stroke-width="1.6"/>
<line x1="152.10" y1="25.02" x2="154.70" y2="25.02" stroke="#444" stroke-width="0.8"/>
<line x1="146.20" y1="130.13" x2="146.20" y2="132.33" stroke="#222" stroke-width="1.4"/>
<rect x="167.75" y="131.33" width="7.20" height="1.07" fill="#000"/>
<rect x="175.45" y="131.83" width="6.20" height="0.57" fill="#fff" stroke="#444" stroke-width="1"/>
<line x1="178.55" y1="130.03" x2="178.55" y2="132.63" stroke="#222" stroke-width="1.6"/>
<line x1="177.25" y1="130.13" x2="179.85" y2="130.13" stroke="#444" stroke-width="0.8"/>
<line x1="171.35" y1="130.13" x2="171.35" y2="132.33" stroke="#222" stroke-width="1.4"/>
<rect x="192.90" y="107.73" width="7.20" height="24.67" fill="#000"/>
<rect x="200.60" y="37.45" width="6.20" height="94.95" fill="#fff" stroke="#444" stroke-width="1"/>
<line x1="203.70" y1="35.65" x2="203.70" y2="38.25" stroke="#222" stroke-width="1.6"/>
<line x1="202.40" y1="35.75" x2="205.00" y2="35.75" stroke="#444" stroke-width="0.8"/>
<line x1="196.50" y1="106.53" x2="196.50" y2="108.73" stroke="#222" stroke-width="1.4"/>
<rect x="218.05" y="131.33" width="7.20" height="1.07" fill="#000"/>
<rect x="225.75" y="131.83" width="6.20" height="0.57" fill="#fff" stroke="#444" stroke-width="1"/>
<line x1="228.85" y1="130.03" x2="228.85" y2="132.63" stroke="#222" stroke-width="1.6"/>
<line x1="227.55" y1="130.13" x2="230.15" y2="130.13" stroke="#444" stroke-width="0.8"/>
<line x1="221.65" y1="130.13" x2="221.65" y2="132.33" stroke="#222" stroke-width="1.4"/>
<text transform="translate(51.88,146.00) rotate(-45) scale(0.94,1)" font-size="7.4" font-weight="bold" text-anchor="end" fill="#111">Buffer</text>
<text transform="translate(77.02,146.00) rotate(-45) scale(0.94,1)" font-size="7.4" font-weight="bold" text-anchor="end" fill="#111">Hu.HRG 2µM</text>
<text transform="translate(102.17,146.00) rotate(-45) scale(0.94,1)" font-size="7.4" font-weight="bold" text-anchor="end" fill="#111">Hu.HRG 5µM</text>
<text transform="translate(127.32,146.00) rotate(-45) scale(0.94,1)" font-size="7.4" font-weight="bold" text-anchor="end" fill="#111">Mo.HRG 2µM</text>
<text transform="translate(152.48,146.00) rotate(-45) scale(0.94,1)" font-size="7.4" font-weight="bold" text-anchor="end" fill="#111">Mo.HRG 5µM</text>
<text transform="translate(177.62,146.00) rotate(-45) scale(0.94,1)" font-size="7.4" font-weight="bold" text-anchor="end" fill="#111">GHH20 2µM</text>
<text transform="translate(202.78,146.00) rotate(-45) scale(0.94,1)" font-size="7.4" font-weight="bold" text-anchor="end" fill="#111">GHH20 5µM</text>
<text transform="translate(227.93,146.00) rotate(-45) scale(0.94,1)" font-size="7.4" font-weight="bold" text-anchor="end" fill="#111">Albumin</text>
<text transform="translate(12.00,68.40) rotate(-90)" x="0" y="0" font-size="9.0" font-weight="bold" text-anchor="middle" fill="#000">% killing of S. pyogenes</text>
<text x="0.80" y="14.40" font-size="18.7" font-weight="bold" text-anchor="start" fill="#000" >A</text>
<text transform="translate(288.60,153.10) scale(0.970,1)" font-size="8.5" text-anchor="end" fill="#1a1a1a" stroke="#1a1a1a" stroke-width="0.22">0</text>
<text transform="translate(288.60,130.40) scale(0.970,1)" font-size="8.5" text-anchor="end" fill="#1a1a1a" stroke="#1a1a1a" stroke-width="0.22">10</text>
<text transform="translate(288.60,107.70) scale(0.970,1)" font-size="8.5" text-anchor="end" fill="#1a1a1a" stroke="#1a1a1a" stroke-width="0.22">20</text>
<text transform="translate(288.60,85.00) scale(0.970,1)" font-size="8.5" text-anchor="end" fill="#1a1a1a" stroke="#1a1a1a" stroke-width="0.22">30</text>
<text transform="translate(288.60,62.30) scale(0.970,1)" font-size="8.5" text-anchor="end" fill="#1a1a1a" stroke="#1a1a1a" stroke-width="0.22">40</text>
<text transform="translate(288.60,39.60) scale(0.970,1)" font-size="8.5" text-anchor="end" fill="#1a1a1a" stroke="#1a1a1a" stroke-width="0.22">50</text>
<text transform="translate(288.60,16.90) scale(0.970,1)" font-size="8.5" text-anchor="end" fill="#1a1a1a" stroke="#1a1a1a" stroke-width="0.22">60</text>
<line x1="296.40" y1="13.60" x2="296.40" y2="150.30" stroke="#333" stroke-width="1"/>
<line x1="293.40" y1="149.80" x2="296.40" y2="149.80" stroke="#333" stroke-width="1"/>
<line x1="293.40" y1="127.10" x2="296.40" y2="127.10" stroke="#333" stroke-width="1"/>
<line x1="293.40" y1="104.40" x2="296.40" y2="104.40" stroke="#333" stroke-width="1"/>
<line x1="293.40" y1="81.70" x2="296.40" y2="81.70" stroke="#333" stroke-width="1"/>
<line x1="293.40" y1="59.00" x2="296.40" y2="59.00" stroke="#333" stroke-width="1"/>
<line x1="293.40" y1="36.30" x2="296.40" y2="36.30" stroke="#333" stroke-width="1"/>
<line x1="293.40" y1="13.60" x2="296.40" y2="13.60" stroke="#333" stroke-width="1"/>
<line x1="296.40" y1="149.80" x2="495.90" y2="149.80" stroke="#333" stroke-width="1"/>
<line x1="296.40" y1="149.80" x2="296.40" y2="152.00" stroke="#333" stroke-width="1"/>
<line x1="336.30" y1="149.80" x2="336.30" y2="152.00" stroke="#333" stroke-width="1"/>
<line x1="376.20" y1="149.80" x2="376.20" y2="152.00" stroke="#333" stroke-width="1"/>
<line x1="416.10" y1="149.80" x2="416.10" y2="152.00" stroke="#333" stroke-width="1"/>
<line x1="456.00" y1="149.80" x2="456.00" y2="152.00" stroke="#333" stroke-width="1"/>
<line x1="495.90" y1="149.80" x2="495.90" y2="152.00" stroke="#333" stroke-width="1"/>
<rect x="303.05" y="140.27" width="8.87" height="9.53" fill="#000"/>
<rect x="312.42" y="139.86" width="7.87" height="9.94" fill="#fff" stroke="#333" stroke-width="1"/>
<rect x="321.28" y="131.69" width="7.87" height="18.11" fill="#808080" stroke="#333" stroke-width="1"/>
<text transform="translate(316.65,167.20) scale(0.970,1)" font-size="8.5" text-anchor="middle" fill="#1a1a1a" stroke="#1a1a1a" stroke-width="0.22">1</text>
<rect x="342.95" y="136.63" width="8.87" height="13.17" fill="#000"/>
<rect x="352.32" y="133.50" width="7.87" height="16.30" fill="#fff" stroke="#333" stroke-width="1"/>
<rect x="361.18" y="118.52" width="7.87" height="31.28" fill="#808080" stroke="#333" stroke-width="1"/>
<text transform="translate(356.55,167.20) scale(0.970,1)" font-size="8.5" text-anchor="middle" fill="#1a1a1a" stroke="#1a1a1a" stroke-width="0.22">5</text>
<rect x="382.85" y="128.24" width="8.87" height="21.57" fill="#000"/>
<rect x="392.22" y="90.60" width="7.87" height="59.20" fill="#fff" stroke="#333" stroke-width="1"/>
<rect x="401.08" y="118.97" width="7.87" height="30.83" fill="#808080" stroke="#333" stroke-width="1"/>
<text transform="translate(396.45,167.20) scale(0.970,1)" font-size="8.5" text-anchor="middle" fill="#1a1a1a" stroke="#1a1a1a" stroke-width="0.22">10</text>
<rect x="422.75" y="116.20" width="8.87" height="33.60" fill="#000"/>
<rect x="432.12" y="93.55" width="7.87" height="56.25" fill="#fff" stroke="#333" stroke-width="1"/>
<rect x="440.98" y="115.80" width="7.87" height="34.00" fill="#808080" stroke="#333" stroke-width="1"/>
<text transform="translate(436.35,167.20) scale(0.970,1)" font-size="8.5" text-anchor="middle" fill="#1a1a1a" stroke="#1a1a1a" stroke-width="0.22">20</text>
<rect x="462.65" y="108.26" width="8.87" height="41.54" fill="#000"/>
<rect x="472.02" y="33.85" width="7.87" height="115.95" fill="#fff" stroke="#333" stroke-width="1"/>
<rect x="480.88" y="84.92" width="7.87" height="64.88" fill="#808080" stroke="#333" stroke-width="1"/>
<text transform="translate(476.25,167.20) scale(0.970,1)" font-size="8.5" text-anchor="middle" fill="#1a1a1a" stroke="#1a1a1a" stroke-width="0.22">40</text>
<text x="396.50" y="183.50" font-size="10" font-weight="bold" text-anchor="middle" fill="#000" >Plasma concentration (%)</text>
<text transform="translate(268.90,84.80) rotate(-90)" x="0" y="0" font-size="10.13" font-weight="bold" text-anchor="middle" fill="#000">Multiplication factor</text>
<text x="270.40" y="25.20" font-size="19" font-weight="bold" text-anchor="start" fill="#000" >D</text>
<text transform="translate(26.70,379.90) scale(0.915,1)" font-size="8.3" text-anchor="end" fill="#1a1a1a" stroke="#1a1a1a" stroke-width="0.22">0</text>
<text transform="translate(26.70,354.13) scale(0.915,1)" font-size="8.3" text-anchor="end" fill="#1a1a1a" stroke="#1a1a1a" stroke-width="0.22">20</text>
<text transform="translate(26.70,328.37) scale(0.915,1)" font-size="8.3" text-anchor="end" fill="#1a1a1a" stroke="#1a1a1a" stroke-width="0.22">40</text>
<text transform="translate(26.70,302.60) scale(0.915,1)" font-size="8.3" text-anchor="end" fill="#1a1a1a" stroke="#1a1a1a" stroke-width="0.22">60</text>
<text transform="translate(26.70,276.83) scale(0.915,1)" font-size="8.3" text-anchor="end" fill="#1a1a1a" stroke="#1a1a1a" stroke-width="0.22">80</text>
<text transform="translate(26.70,251.07) scale(0.915,1)" font-size="8.3" text-anchor="end" fill="#1a1a1a" stroke="#1a1a1a" stroke-width="0.22">100</text>
<text transform="translate(26.70,225.30) scale(0.915,1)" font-size="8.3" text-anchor="end" fill="#1a1a1a" stroke="#1a1a1a" stroke-width="0.22">120</text>
<line x1="33.50" y1="221.90" x2="33.50" y2="377.00" stroke="#333" stroke-width="1"/>
<line x1="31.30" y1="376.50" x2="33.50" y2="376.50" stroke="#333" stroke-width="1"/>
<line x1="31.30" y1="350.73" x2="33.50" y2="350.73" stroke="#333" stroke-width="1"/>
<line x1="31.30" y1="324.97" x2="33.50" y2="324.97" stroke="#333" stroke-width="1"/>
<line x1="31.30" y1="299.20" x2="33.50" y2="299.20" stroke="#333" stroke-width="1"/>
<line x1="31.30" y1="273.43" x2="33.50" y2="273.43" stroke="#333" stroke-width="1"/>
<line x1="31.30" y1="247.67" x2="33.50" y2="247.67" stroke="#333" stroke-width="1"/>
<line x1="31.30" y1="221.90" x2="33.50" y2="221.90" stroke="#333" stroke-width="1"/>
<line x1="33.50" y1="376.50" x2="225.30" y2="376.50" stroke="#333" stroke-width="1.2"/>
<line x1="33.50" y1="376.50" x2="33.50" y2="378.70" stroke="#333" stroke-width="1"/>
<text transform="translate(33.50,391.00) scale(0.915,1)" font-size="8.2" text-anchor="middle" fill="#1a1a1a" stroke="#1a1a1a" stroke-width="0.22">0</text>
<line x1="81.45" y1="376.50" x2="81.45" y2="378.70" stroke="#333" stroke-width="1"/>
<text transform="translate(81.45,391.00) scale(0.915,1)" font-size="8.2" text-anchor="middle" fill="#1a1a1a" stroke="#1a1a1a" stroke-width="0.22">1</text>
<line x1="129.40" y1="376.50" x2="129.40" y2="378.70" stroke="#333" stroke-width="1"/>
<text transform="translate(129.40,391.00) scale(0.915,1)" font-size="8.2" text-anchor="middle" fill="#1a1a1a" stroke="#1a1a1a" stroke-width="0.22">2</text>
<line x1="177.35" y1="376.50" x2="177.35" y2="378.70" stroke="#333" stroke-width="1"/>
<text transform="translate(177.35,391.00) scale(0.915,1)" font-size="8.2" text-anchor="middle" fill="#1a1a1a" stroke="#1a1a1a" stroke-width="0.22">3</text>
<line x1="225.30" y1="376.50" x2="225.30" y2="378.70" stroke="#333" stroke-width="1"/>
<text transform="translate(225.30,391.00) scale(0.915,1)" font-size="8.2" text-anchor="middle" fill="#1a1a1a" stroke="#1a1a1a" stroke-width="0.22">4</text>
<line x1="49.47" y1="264.16" x2="49.47" y2="287.86" stroke="#6a6a6a" stroke-width="1.4"/>
<line x1="47.97" y1="264.16" x2="50.97" y2="264.16" stroke="#555" stroke-width="1.1"/>
<line x1="47.97" y1="287.86" x2="50.97" y2="287.86" stroke="#555" stroke-width="1.1"/>
<line x1="65.48" y1="270.86" x2="65.48" y2="306.93" stroke="#6a6a6a" stroke-width="1.4"/>
<line x1="63.98" y1="270.86" x2="66.98" y2="270.86" stroke="#555" stroke-width="1.1"/>
<line x1="63.98" y1="306.93" x2="66.98" y2="306.93" stroke="#555" stroke-width="1.1"/>
<line x1="49.47" y1="344.03" x2="49.47" y2="367.22" stroke="#6a6a6a" stroke-width="1.4"/>
<line x1="47.97" y1="344.03" x2="50.97" y2="344.03" stroke="#555" stroke-width="1.1"/>
<line x1="47.97" y1="367.22" x2="50.97" y2="367.22" stroke="#555" stroke-width="1.1"/>
<polyline points="33.50,249.60 49.47,276.01 65.48,288.89 97.42,376.50 193.32,376.50" fill="none" stroke="#000" stroke-width="1.5"/>
<polyline points="33.50,252.05 49.47,355.63 65.48,376.50" fill="none" stroke="#000" stroke-width="1.5"/>
<rect x="31.20" y="247.30" width="4.6" height="4.6" rx="0.8" fill="none" stroke="#555" stroke-width="1"/>
<rect x="47.17" y="273.71" width="4.6" height="4.6" rx="0.8" fill="none" stroke="#555" stroke-width="1"/>
<rect x="63.18" y="286.59" width="4.6" height="4.6" rx="0.8" fill="none" stroke="#555" stroke-width="1"/>
<rect x="95.12" y="374.20" width="4.6" height="4.6" rx="0.8" fill="none" stroke="#555" stroke-width="1"/>
<rect x="191.02" y="374.20" width="4.6" height="4.6" rx="0.8" fill="none" stroke="#555" stroke-width="1"/>
<rect x="31.20" y="249.75" width="4.6" height="4.6" rx="1.0" fill="none" stroke="#555" stroke-width="1"/>
<rect x="47.17" y="353.33" width="4.6" height="4.6" rx="1.0" fill="none" stroke="#555" stroke-width="1"/>
<rect x="63.18" y="374.20" width="4.6" height="4.6" rx="2.3" fill="none" stroke="#555" stroke-width="1"/>
<text x="134.25" y="404.20" font-size="9.3" font-weight="bold" text-anchor="middle" fill="#000" >SIC (µM)</text>
<text transform="translate(11.90,305.70) rotate(-90)" x="0" y="0" font-size="9.3" font-weight="bold" text-anchor="middle" fill="#000">% killing of S. pyogenes</text>
<text x="-0.60" y="218.50" font-size="18" font-weight="bold" text-anchor="start" fill="#000" >B</text>
<text transform="translate(289.30,379.60) scale(0.930,1)" font-size="8.4" text-anchor="end" fill="#1a1a1a" stroke="#1a1a1a" stroke-width="0.22">0</text>
<text transform="translate(289.30,362.73) scale(0.930,1)" font-size="8.4" text-anchor="end" fill="#1a1a1a" stroke="#1a1a1a" stroke-width="0.22">10</text>
<text transform="translate(289.30,345.87) scale(0.930,1)" font-size="8.4" text-anchor="end" fill="#1a1a1a" stroke="#1a1a1a" stroke-width="0.22">20</text>
<text transform="translate(289.30,329.00) scale(0.930,1)" font-size="8.4" text-anchor="end" fill="#1a1a1a" stroke="#1a1a1a" stroke-width="0.22">30</text>
<text transform="translate(289.30,312.13) scale(0.930,1)" font-size="8.4" text-anchor="end" fill="#1a1a1a" stroke="#1a1a1a" stroke-width="0.22">40</text>
<text transform="translate(289.30,295.27) scale(0.930,1)" font-size="8.4" text-anchor="end" fill="#1a1a1a" stroke="#1a1a1a" stroke-width="0.22">50</text>
<text transform="translate(289.30,278.40) scale(0.930,1)" font-size="8.4" text-anchor="end" fill="#1a1a1a" stroke="#1a1a1a" stroke-width="0.22">60</text>
<text transform="translate(289.30,261.53) scale(0.930,1)" font-size="8.4" text-anchor="end" fill="#1a1a1a" stroke="#1a1a1a" stroke-width="0.22">70</text>
<text transform="translate(289.30,244.67) scale(0.930,1)" font-size="8.4" text-anchor="end" fill="#1a1a1a" stroke="#1a1a1a" stroke-width="0.22">80</text>
<text transform="translate(289.30,227.80) scale(0.930,1)" font-size="8.4" text-anchor="end" fill="#1a1a1a" stroke="#1a1a1a" stroke-width="0.22">90</text>
<line x1="295.20" y1="224.20" x2="295.20" y2="376.50" stroke="#333" stroke-width="1"/>
<line x1="293.00" y1="376.00" x2="295.20" y2="376.00" stroke="#333" stroke-width="1"/>
<line x1="293.00" y1="359.13" x2="295.20" y2="359.13" stroke="#333" stroke-width="1"/>
<line x1="293.00" y1="342.27" x2="295.20" y2="342.27" stroke="#333" stroke-width="1"/>
<line x1="293.00" y1="325.40" x2="295.20" y2="325.40" stroke="#333" stroke-width="1"/>
<line x1="293.00" y1="308.53" x2="295.20" y2="308.53" stroke="#333" stroke-width="1"/>
<line x1="293.00" y1="291.67" x2="295.20" y2="291.67" stroke="#333" stroke-width="1"/>
<line x1="293.00" y1="274.80" x2="295.20" y2="274.80" stroke="#333" stroke-width="1"/>
<line x1="293.00" y1="257.93" x2="295.20" y2="257.93" stroke="#333" stroke-width="1"/>
<line x1="293.00" y1="241.07" x2="295.20" y2="241.07" stroke="#333" stroke-width="1"/>
<line x1="293.00" y1="224.20" x2="295.20" y2="224.20" stroke="#333" stroke-width="1"/>
<rect x="326.80" y="250.51" width="40.80" height="125.49" fill="#818181" stroke="#333" stroke-width="1"/>
<rect x="430.30" y="324.22" width="40.80" height="51.78" fill="#818181" stroke="#333" stroke-width="1"/>
<line x1="295.20" y1="376.00" x2="502.40" y2="376.00" stroke="#555" stroke-width="1.6"/>
<line x1="295.20" y1="376.00" x2="295.20" y2="378.20" stroke="#333" stroke-width="1"/>
<line x1="398.80" y1="376.00" x2="398.80" y2="378.20" stroke="#333" stroke-width="1"/>
<line x1="502.40" y1="376.00" x2="502.40" y2="378.20" stroke="#333" stroke-width="1"/>
<line x1="347.10" y1="242.75" x2="347.10" y2="258.27" stroke="#222" stroke-width="1"/>
<line x1="346.10" y1="242.75" x2="348.10" y2="242.75" stroke="#222" stroke-width="1"/>
<line x1="346.10" y1="258.27" x2="348.10" y2="258.27" stroke="#222" stroke-width="1"/>
<line x1="450.60" y1="315.11" x2="450.60" y2="333.33" stroke="#222" stroke-width="1"/>
<line x1="449.60" y1="315.11" x2="451.60" y2="315.11" stroke="#222" stroke-width="1"/>
<line x1="449.60" y1="333.33" x2="451.60" y2="333.33" stroke="#222" stroke-width="1"/>
<circle cx="446.1" cy="309.2" r="1.35" fill="#111"/>
<circle cx="449.5" cy="309.2" r="1.35" fill="#111"/>
<circle cx="452.9" cy="309.2" r="1.35" fill="#111"/>
<text x="347.10" y="391.90" font-size="9" font-weight="bold" text-anchor="middle" fill="#000" >Wild type</text>
<text x="450.80" y="391.90" font-size="9" font-weight="bold" text-anchor="middle" fill="#000" >HRG deficient</text>
<text transform="translate(272.70,306.50) rotate(-90)" x="0" y="0" font-size="9.07" font-weight="bold" text-anchor="middle" fill="#000">% killing of S. pyogenes</text>
<text x="257.70" y="218.50" font-size="17.7" font-weight="bold" text-anchor="start" fill="#000" >E</text>
<text transform="translate(25.00,600.90) scale(0.930,1)" font-size="8.3" text-anchor="end" fill="#1a1a1a" stroke="#1a1a1a" stroke-width="0.22">0</text>
<text transform="translate(25.00,571.44) scale(0.930,1)" font-size="8.3" text-anchor="end" fill="#1a1a1a" stroke="#1a1a1a" stroke-width="0.22">10</text>
<text transform="translate(25.00,541.98) scale(0.930,1)" font-size="8.3" text-anchor="end" fill="#1a1a1a" stroke="#1a1a1a" stroke-width="0.22">20</text>
<text transform="translate(25.00,512.52) scale(0.930,1)" font-size="8.3" text-anchor="end" fill="#1a1a1a" stroke="#1a1a1a" stroke-width="0.22">30</text>
<text transform="translate(25.00,483.06) scale(0.930,1)" font-size="8.3" text-anchor="end" fill="#1a1a1a" stroke="#1a1a1a" stroke-width="0.22">40</text>
<text transform="translate(25.00,453.60) scale(0.930,1)" font-size="8.3" text-anchor="end" fill="#1a1a1a" stroke="#1a1a1a" stroke-width="0.22">50</text>
<line x1="31.50" y1="450.20" x2="31.50" y2="598.00" stroke="#333" stroke-width="1"/>
<line x1="29.30" y1="597.50" x2="31.50" y2="597.50" stroke="#333" stroke-width="1"/>
<line x1="29.30" y1="568.04" x2="31.50" y2="568.04" stroke="#333" stroke-width="1"/>
<line x1="29.30" y1="538.58" x2="31.50" y2="538.58" stroke="#333" stroke-width="1"/>
<line x1="29.30" y1="509.12" x2="31.50" y2="509.12" stroke="#333" stroke-width="1"/>
<line x1="29.30" y1="479.66" x2="31.50" y2="479.66" stroke="#333" stroke-width="1"/>
<line x1="29.30" y1="450.20" x2="31.50" y2="450.20" stroke="#333" stroke-width="1"/>
<line x1="31.50" y1="597.50" x2="240.00" y2="597.50" stroke="#444" stroke-width="1.3"/>
<line x1="31.50" y1="597.50" x2="31.50" y2="599.50" stroke="#333" stroke-width="1"/>
<line x1="100.60" y1="597.50" x2="100.60" y2="599.50" stroke="#333" stroke-width="1"/>
<line x1="170.00" y1="597.50" x2="170.00" y2="599.50" stroke="#333" stroke-width="1"/>
<line x1="239.40" y1="597.50" x2="239.40" y2="599.50" stroke="#333" stroke-width="1"/>
<text transform="translate(65.90,612.00) scale(0.915,1)" font-size="8.2" text-anchor="middle" fill="#1a1a1a" stroke="#1a1a1a" stroke-width="0.22">2</text>
<text transform="translate(135.30,612.00) scale(0.915,1)" font-size="8.2" text-anchor="middle" fill="#1a1a1a" stroke="#1a1a1a" stroke-width="0.22">4</text>
<text transform="translate(204.70,612.00) scale(0.915,1)" font-size="8.2" text-anchor="middle" fill="#1a1a1a" stroke="#1a1a1a" stroke-width="0.22">6</text>
<polyline points="65.90,587.00 135.60,505.30 205.40,459.60" fill="none" stroke="#000" stroke-width="1.4"/>
<polyline points="65.90,587.00 135.60,533.60 205.10,524.20" fill="none" stroke="#000" stroke-width="1.4"/>
<rect x="133.40" y="503.10" width="4.40" height="4.40" fill="#fff" stroke="#333" stroke-width="0.9"/>
<rect x="203.20" y="457.40" width="4.40" height="4.40" fill="#fff" stroke="#333" stroke-width="0.9"/>
<rect x="63.40" y="584.50" width="5.00" height="5.00" fill="#000"/>
<rect x="133.10" y="531.10" width="5.00" height="5.00" fill="#000"/>
<rect x="202.60" y="521.70" width="5.00" height="5.00" fill="#000"/>
<text x="211.60" y="485.30" font-size="9" font-weight="bold" text-anchor="middle" fill="#000" >HRG deficient</text>
<text x="210.10" y="544.20" font-size="8.85" font-weight="bold" text-anchor="middle" fill="#000" >Wild type</text>
<text x="136.70" y="621.60" font-size="8.8" font-weight="bold" text-anchor="middle" fill="#000" >Time (hours)</text>
<text transform="translate(7.80,525.50) rotate(-90)" x="0" y="0" font-size="9.2" font-weight="bold" text-anchor="middle" fill="#000">Multiplication factor</text>
<text x="-0.30" y="442.20" font-size="19.3" font-weight="bold" text-anchor="start" fill="#000" >C</text>
</svg>
</body></html>
